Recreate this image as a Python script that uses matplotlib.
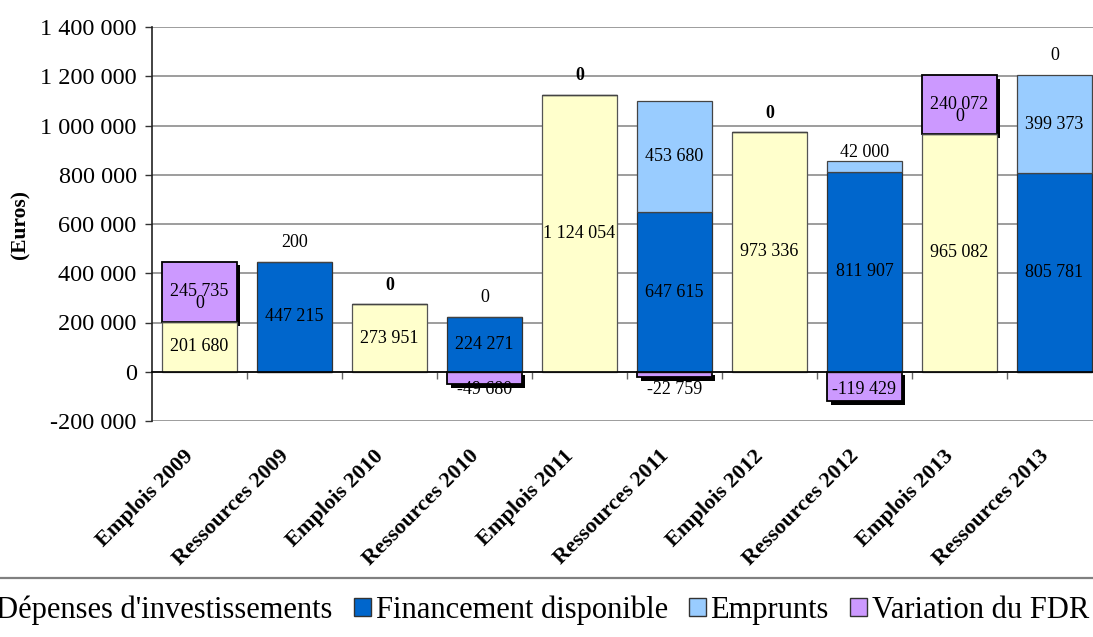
import matplotlib
matplotlib.use("Agg")
import matplotlib.pyplot as plt
import matplotlib.patheffects as pe
from matplotlib.patches import Patch
from matplotlib.lines import Line2D
import matplotlib.transforms as mtrans
import numpy as np

plt.rcParams['font.family'] = ['Liberation Serif', 'DejaVu Serif']

categories = ["Emplois 2009", "Ressources 2009", "Emplois 2010", "Ressources 2010",
              "Emplois 2011", "Ressources 2011", "Emplois 2012", "Ressources 2012",
              "Emplois 2013", "Ressources 2013"]
depenses = [201680, 0, 273951, 0, 1124054, 0, 973336, 0, 965082, 0]
financement = [0, 447215, 0, 224271, 0, 647615, 0, 811907, 0, 805781]
emprunts = [0, 200, 0, 0, 0, 453680, 0, 42000, 0, 399373]
variation = [245735, 0, 0, -49680, 0, -22759, 0, -119429, 240072, 0]
series_names = ["Dépenses d'investissements", "Financement disponible", "Emprunts", "Variation du FDR"]
colors = ["#FFFFCC", "#0066CC", "#99CCFF", "#CC99FF"]
# extra labels shown above bars (zero-valued series labels)
top_text = ["", "", "0", "0", "0", "", "0", "", "", "0"]
top_bold = [False, False, True, False, True, False, True, False, False, False]
yticks = [-200000, 0, 200000, 400000, 600000, 800000, 1000000, 1200000, 1400000]

def fmt(v):
    return f"{v:,.0f}".replace(",", " ")

W, H = 1093, 637
fig = plt.figure(figsize=(W / 100, H / 100), dpi=100)
ax = fig.add_axes([152 / W, (H - 421) / H, 950 / W, 394 / H])

x = np.arange(len(categories))
bw = 0.78
dep = np.array(depenses, float)
fin = np.array(financement, float)
emp = np.array(emprunts, float)
var = np.array(variation, float)

ax.bar(x, dep, bw, color=colors[0], edgecolor="#555555", lw=0.9, zorder=3)
ax.bar(x, fin, bw, bottom=dep, color=colors[1], edgecolor="#333333", lw=0.9, zorder=3)
base2 = dep + fin
ax.bar(x, emp, bw, bottom=base2, color=colors[2], edgecolor="#444444", lw=0.9, zorder=3)
base3 = base2 + emp
pos_base = np.where(var >= 0, base3, 0)
shadow = [pe.SimplePatchShadow(offset=(2.6, -2.6), shadow_rgbFace="black", alpha=1.0), pe.Normal()]
vb = ax.bar(x, np.where(var != 0, var, np.nan), bw, bottom=pos_base, color=colors[3],
            edgecolor="black", lw=1.3, zorder=2.5)
for p in vb:
    p.set_path_effects(shadow)

lab_fs = 13
for i in range(len(categories)):
    if dep[i] > 0:
        ax.text(i, dep[i] / 2, fmt(dep[i]), ha="center", va="center", fontsize=lab_fs, zorder=5)
    if fin[i] > 0:
        ax.text(i, dep[i] + fin[i] / 2, fmt(fin[i]), ha="center", va="center", fontsize=lab_fs, zorder=5)
    if emp[i] > 60000:
        ax.text(i, base2[i] + emp[i] / 2, fmt(emp[i]), ha="center", va="center", fontsize=lab_fs, zorder=5)
    elif emp[i] > 0:
        off = 9 if emp[i] > 1000 else 19
        ax.annotate(fmt(emp[i]), (i, base3[i]), xytext=(0, off), textcoords="offset pixels",
                    ha="center", va="center", fontsize=lab_fs, zorder=5)
    if var[i] > 0:
        c = base3[i] + var[i] / 2
        ax.text(i, c, fmt(var[i]), ha="center", va="center", fontsize=lab_fs, zorder=5)
        ax.annotate("0", (i, c), xytext=(0, -12), textcoords="offset pixels",
                    ha="center", va="center", fontsize=lab_fs, zorder=5)
    elif var[i] < 0:
        ax.annotate(fmt(var[i]), (i, 0), xytext=(0, -18), textcoords="offset pixels",
                    ha="center", va="center", fontsize=lab_fs, zorder=5)
    if top_text[i]:
        ax.annotate(top_text[i], (i, base3[i]), xytext=(0, 19), textcoords="offset pixels",
                    ha="center", va="center", fontsize=lab_fs,
                    fontweight="bold" if top_bold[i] else "normal", zorder=5)

ax.set_xlim(-0.5, len(categories) - 0.5)
ax.set_ylim(-200000, 1400000)
ax.set_yticks(yticks)
ax.set_yticklabels([fmt(v) for v in yticks], fontsize=17.5)
ax.yaxis.grid(True, color="#8c8c8c", lw=1.2, zorder=0)
ax.set_axisbelow(True)
ax.tick_params(axis="y", length=5, width=1, pad=6, color="#333333")

for s in ["top", "right"]:
    ax.spines[s].set_visible(False)
ax.spines["left"].set_color("#222222")
ax.spines["left"].set_linewidth(1.2)
ax.spines["bottom"].set_position(("data", 0))
ax.spines["bottom"].set_color("black")
ax.spines["bottom"].set_linewidth(1.2)
ax.spines["bottom"].set_zorder(4)
ax.set_xticks(x)
ax.set_xticklabels([])
ax.tick_params(axis="x", which="major", length=0)
ax.set_xticks(np.arange(len(categories)) + 0.5, minor=True)
ax.tick_params(axis="x", which="minor", length=5, width=1, color="#666666", direction="out")

trans = mtrans.blended_transform_factory(ax.transData, ax.transAxes)
for i, c in enumerate(categories):
    ax.annotate(c, (i, 0), xycoords=trans, xytext=(-16, -25), textcoords="offset pixels",
                rotation=45, rotation_mode="anchor", ha="right", va="top",
                fontsize=16, fontweight="bold", annotation_clip=False)

fig.text(20 / W, 1 - 224 / H, "(Euros)", rotation=90, ha="center", va="center",
         fontsize=15.5, fontweight="bold")

fig.add_artist(Line2D([0, 1], [1 - 578 / H, 1 - 578 / H], transform=fig.transFigure,
                      color="#808080", lw=1.6))

handles = [Patch(facecolor=colors[k], edgecolor="#333333", lw=1) for k in range(4)]
fig.legend(handles, series_names, loc="center", bbox_to_anchor=(532 / W, 1 - 610 / H),
           ncol=4, frameon=False, fontsize=22, handlelength=0.55, handleheight=0.55,
           handletextpad=0.15, columnspacing=0.7)

fig.savefig("out.png", dpi=100)
